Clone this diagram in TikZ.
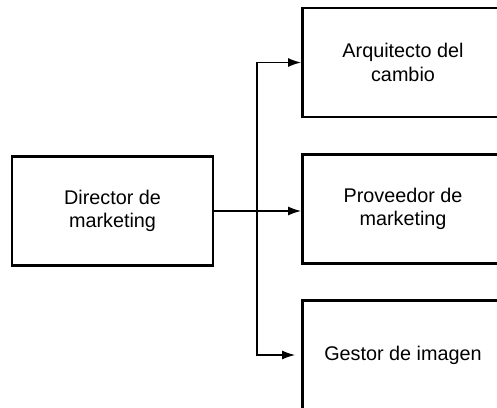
\documentclass[tikz,border=0pt]{standalone}
\usepackage{fontspec}
\setmainfont{Liberation Sans}
\usetikzlibrary{arrows.meta}
\begin{document}
\begin{tikzpicture}[x=1pt,y=-1pt,
  box/.style={draw, line width=2.8pt, minimum width=201pt, minimum height=109pt,
    align=center, inner sep=0pt, font=\fontsize{19.8}{23.5}\selectfont},
  arr/.style={line width=1.4pt, -{Latex[length=13pt,width=9pt]}}]
\useasboundingbox (0,0) rectangle (497,407);
\clip (0,0) rectangle (497,407);
\node[box] (dir) at (112.5,211) {Director de\\marketing};
\node[box] (top) at (403,62.5) {Arquitecto del\\cambio};
\node[box] (mid) at (403,209) {Proveedor de\\marketing};
\node[box] (bot) at (403,355) {Gestor de imagen};
\coordinate (sp) at (257,0);
\draw[arr] (dir.east) -- (mid.west |- dir.east);
\draw[arr] (sp |- dir.east) |- (top.west);
\draw[arr] (sp |- dir.east) |- ([xshift=-6pt]bot.west);
\end{tikzpicture}
\end{document}
